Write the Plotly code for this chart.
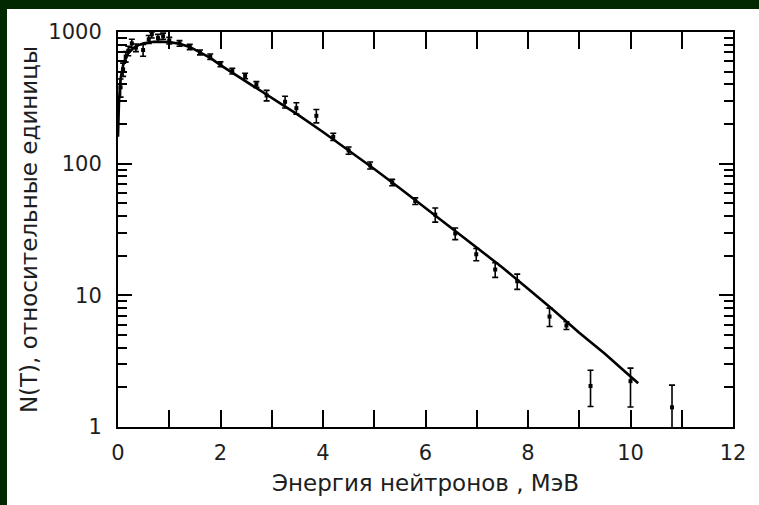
import plotly.graph_objects as go

# Curve (fit)
curve_x = [0.0, 0.02, 0.05, 0.1, 0.15, 0.2, 0.3, 0.4, 0.5, 0.6, 0.7, 0.8, 0.9, 1.0,
           1.2, 1.4, 1.6, 1.8, 2.0, 2.5, 3.0, 3.5, 4.0, 4.5, 5.0, 5.5, 6.0, 6.5,
           7.0, 7.5, 8.0, 8.5, 9.0, 9.5, 10.0, 10.15]
curve_y = [160, 300, 440, 560, 640, 690, 755, 795, 820, 835, 842, 845, 843, 838,
           815, 770, 700, 635, 560, 420, 318, 237, 174, 126, 91, 65, 46, 32.6,
           23.1, 16.3, 11.2, 7.7, 5.2, 3.6, 2.42, 2.15]

# Measured points with error bars
pts_x = [0.05, 0.1, 0.15, 0.2, 0.27, 0.35, 0.49, 0.6, 0.66, 0.78, 0.88, 1.0, 1.2,
         1.4, 1.6, 1.8, 2.0, 2.23, 2.48, 2.7, 2.9, 3.26, 3.48, 3.87, 4.2, 4.5,
         4.92, 5.35, 5.8, 6.19, 6.58, 6.99, 7.36, 7.79, 8.42, 8.75, 9.22, 10.0, 10.81]
pts_y = [380, 520, 650, 720, 820, 760, 730, 880, 960, 900, 930, 860, 820,
         770, 700, 650, 570, 505, 464, 400, 330, 295, 264, 231, 160, 126,
         97, 72, 52, 41, 29.5, 20.5, 15.7, 12.8, 6.9, 5.9, 2.05, 2.23, 1.41]
err_plus = [60, 60, 60, 60, 60, 50, 75, 60, 40, 60, 50, 50, 40,
            35, 30, 30, 25, 25, 22, 20, 30, 30, 26, 27, 10, 8,
            6, 4, 3, 5, 3, 2.2, 2.0, 1.7, 1.1, 0.4, 0.65, 0.57, 0.67]
err_minus = [60, 60, 60, 60, 60, 50, 75, 60, 60, 60, 50, 50, 40,
             35, 30, 30, 25, 25, 22, 20, 30, 30, 26, 27, 10, 8,
             6, 4, 3, 5, 3, 2.2, 2.0, 1.7, 1.1, 0.4, 0.62, 0.81, 0.67]

x_ticks = [0, 2, 4, 6, 8, 10, 12]
x_minor = [1, 3, 5, 7, 9, 11]
y_ticks = [1, 10, 100, 1000]
y_tick_text = ["1", "10", "100", "1000"]
y_minor = [2, 3, 4, 5, 6, 7, 8, 9, 20, 30, 40, 50, 60, 70, 80, 90,
           200, 300, 400, 500, 600, 700, 800, 900]

x_title = "Энергия нейтронов , МэВ"
y_title = "N(T), относительные единицы"

FONT = "DejaVu Sans"
TXT = "#1e1e1e"
GREEN = "#022802"

fig = go.Figure()
fig.add_trace(go.Scatter(
    x=curve_x, y=curve_y, mode="lines",
    line=dict(color="black", width=2.6), showlegend=False, hoverinfo="skip"))
fig.add_trace(go.Scatter(
    x=pts_x, y=pts_y, mode="markers",
    marker=dict(symbol="square", size=4, color="black"),
    error_y=dict(type="data", symmetric=False, array=err_plus, arrayminus=err_minus,
                 color="black", thickness=1.6, width=3),
    cliponaxis=False, showlegend=False))

fig.update_layout(
    width=759, height=505,
    margin=dict(l=118, r=26, t=32, b=78),
    paper_bgcolor="white", plot_bgcolor="white",
    font=dict(family=FONT, color=TXT, size=20),
    shapes=[
        dict(type="rect", xref="paper", yref="paper",
             x0=-0.3, x1=1.2, y0=1.0582, y1=1.2,
             fillcolor=GREEN, line=dict(width=0), layer="below"),
        dict(type="rect", xref="paper", yref="paper",
             x0=-0.3, x1=-0.1805, y0=-0.3, y1=1.2,
             fillcolor=GREEN, line=dict(width=0), layer="below"),
    ],
)
fig.update_xaxes(
    range=[0, 12], tickmode="array", tickvals=x_ticks,
    ticks="inside", ticklen=17, tickwidth=2, tickcolor="black",
    minor=dict(tickmode="array", tickvals=x_minor, ticks="inside",
               ticklen=17, tickwidth=2, tickcolor="black"),
    showline=True, linecolor="black", linewidth=2, mirror="ticks",
    showgrid=False, zeroline=False, ticklabelstandoff=6,
    tickfont=dict(size=21, family=FONT, color=TXT),
    title=dict(text=x_title, font=dict(size=23, family=FONT, color=TXT), standoff=11),
)
fig.update_yaxes(
    type="log", range=[0, 3], tickmode="array", tickvals=y_ticks, ticktext=y_tick_text,
    ticks="inside", ticklen=14, tickwidth=2, tickcolor="black",
    minor=dict(tickmode="array", tickvals=y_minor, ticks="inside",
               ticklen=9, tickwidth=2, tickcolor="black"),
    showline=True, linecolor="black", linewidth=2, mirror="ticks",
    showgrid=False, zeroline=False, ticklabelstandoff=10,
    tickfont=dict(size=21, family=FONT, color=TXT),
    title=dict(text=y_title, font=dict(size=23, family=FONT, color=TXT), standoff=4),
)

fig.write_html(
    "out.html",
    config={"displayModeBar": False},
    post_script="document.body.style.margin='0';document.body.style.overflow='hidden';",
)
